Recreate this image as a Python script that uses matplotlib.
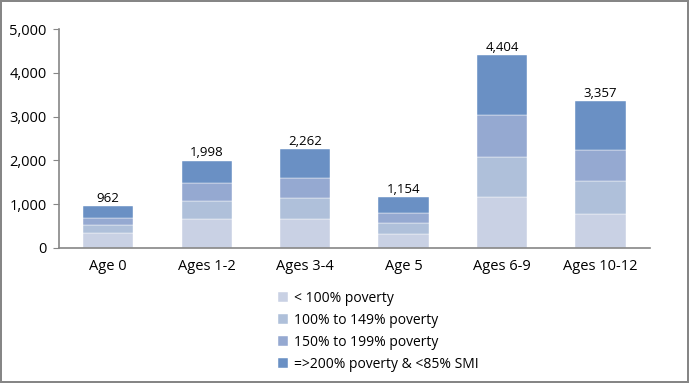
import matplotlib.pyplot as plt
import numpy as np

# categories and stacked series values
ages = ['Age 0', 'Ages 1-2', 'Ages 3-4', 'Age 5', 'Ages 6-9', 'Ages 10-12']
below_100 = [349, 661, 661, 319, 1162, 774]
pct_100_149 = [182, 417, 478, 251, 911, 752]
pct_150_199 = [153, 410, 471, 235, 957, 706]
above_200 = [278, 510, 652, 349, 1374, 1125]
totals = [962, 1998, 2262, 1154, 4404, 3357]

series_names = ['< 100% poverty', '100% to 149% poverty',
                '150% to 199% poverty', '=>200% poverty & <85% SMI']
colors = ['#C9D1E4', '#AFC0DA', '#95A9D1', '#6A90C4']

plt.rcParams['font.family'] = ['Open Sans', 'DejaVu Sans']

fig = plt.figure(figsize=(6.89, 3.83), dpi=100)
fig.patch.set_edgecolor('#868686')
fig.patch.set_linewidth(1.5)
ax = fig.add_axes([0.0856, 0.3525, 0.8574, 0.5715])

x = np.arange(len(ages))
bottom = np.zeros(len(ages))
for vals, name, c in zip([below_100, pct_100_149, pct_150_199, above_200], series_names, colors):
    ax.bar(x, vals, width=0.51, bottom=bottom, color=c, label=name,
           edgecolor='white', linewidth=0.3)
    bottom += np.array(vals)

for xi, t in zip(x, totals):
    ax.text(xi, t + 30, f'{t:,}', ha='center', va='bottom', fontsize=9.5)

ax.set_xlim(-0.5, len(ages) - 0.5)
ax.set_ylim(0, 5000)
ax.set_yticks(range(0, 5001, 1000))
ax.set_yticklabels([f'{v:,}' for v in range(0, 5001, 1000)], fontsize=10.5)
ax.set_xticks(x)
ax.set_xticklabels(ages, fontsize=10.5)
ax.tick_params(axis='x', length=0, pad=8)
ax.tick_params(axis='y', length=4, color='#868686', pad=5)

for s in ['top', 'right']:
    ax.spines[s].set_visible(False)
for s in ['left', 'bottom']:
    ax.spines[s].set_color('#868686')
    ax.spines[s].set_linewidth(1.2)

fig.legend(loc='upper left', bbox_to_anchor=(0.395, 0.255), frameon=False,
           fontsize=10, handlelength=0.75, handleheight=0.75, handletextpad=0.45,
           labelspacing=0.5, borderaxespad=0)

fig.savefig('out.png', dpi=100)
